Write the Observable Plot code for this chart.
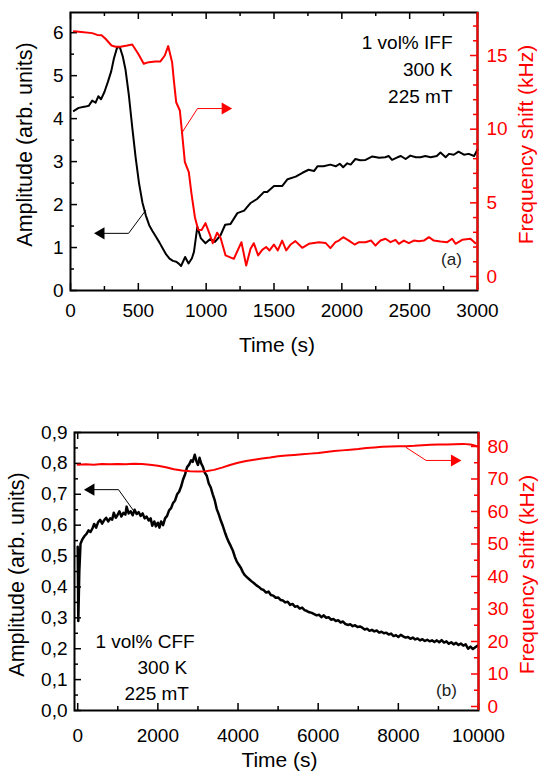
<!DOCTYPE html>
<html><head><meta charset="utf-8">
<script src="https://cdn.jsdelivr.net/npm/d3@7"></script>
<script src="https://cdn.jsdelivr.net/npm/@observablehq/plot@0.6"></script>
<style>
html,body{margin:0;padding:0;background:#fff;}
#wrap{position:relative;width:539px;height:772px;overflow:hidden;}
.layer{position:absolute;left:0;}
</style></head><body><div id="wrap"></div>
<script>
// ---------- Panel (a) data ----------
const ampA_t = [25,60,110,135,160,185,205,225,250,275,300,320,345,365,385,405,430,455,480,505,530,555,580,605,630,655,680,705,730,755,780,800,815,845,870,895,910,935,960,995,1030,1065,1105,1140,1180,1230,1280,1325,1375,1425,1450,1500,1560,1600,1660,1710,1755,1795,1820,1865,1915,1955,1985,2010,2040,2065,2100,2135,2175,2225,2275,2320,2345,2370,2410,2435,2470,2505,2545,2580,2615,2655,2700,2727,2765,2790,2825,2860,2900,2935,2975,3000];
const ampA_v = [4.18,4.25,4.28,4.30,4.42,4.37,4.52,4.45,4.62,4.85,5.10,5.40,5.67,5.65,5.45,5.15,4.55,3.80,3.10,2.50,2.05,1.75,1.52,1.38,1.25,1.12,0.98,0.84,0.74,0.69,0.67,0.62,0.57,0.78,0.63,0.75,0.90,1.48,1.22,1.10,1.20,1.13,1.28,1.53,1.55,1.80,1.86,2.03,2.13,2.29,2.29,2.43,2.43,2.59,2.65,2.74,2.81,2.78,2.89,2.89,2.93,2.89,2.95,2.87,2.96,2.93,3.06,3.03,3.04,3.12,3.09,3.10,3.13,3.04,3.10,3.13,3.06,3.14,3.10,3.10,3.13,3.10,3.13,3.21,3.10,3.18,3.16,3.23,3.16,3.18,3.13,3.28];
const frqA_t = [25,80,160,197,229,258,302,332,369,418,455,499,540,577,626,663,695,720,749,762,779,806,823,843,872,892,917,941,966,995,1025,1049,1081,1106,1143,1204,1260,1295,1327,1351,1383,1413,1442,1467,1499,1528,1560,1590,1622,1658,1708,1757,1831,1880,1916,1953,1978,2010,2052,2094,2126,2174,2216,2248,2285,2322,2359,2396,2420,2457,2494,2531,2568,2605,2642,2678,2727,2777,2813,2838,2887,2948,2985];
const frqA_v = [16.65,16.6,16.52,16.4,16.37,16.14,15.68,15.6,15.6,15.68,15.75,15.12,14.44,14.55,14.6,14.6,15.0,15.64,14.55,13.3,11.83,11.27,9.69,7.76,7.08,5.61,4.03,3.17,3.15,3.62,2.9,2.26,2.97,2.63,1.43,1.2,2.33,0.75,1.88,2.26,1.43,1.81,2.0,1.77,2.17,1.77,2.44,1.77,2.17,2.4,1.95,2.22,2.33,2.28,1.93,2.33,2.44,2.67,2.44,2.17,2.33,2.33,2.44,2.1,2.44,2.56,2.33,2.49,2.22,2.44,2.26,2.44,2.4,2.44,2.67,2.44,2.38,2.33,2.56,2.22,2.49,2.56,2.26];
const xTicksA = [0,500,1000,1500,2000,2500,3000];
const xMinorA = [250,750,1250,1750,2250,2750];
const yTicksA = [0,1,2,3,4,5,6];
const yMinorA = [0.5,1.5,2.5,3.5,4.5,5.5];
const rTicksA = [0,5,10,15];
const rMinorA = [1,2,3,4,6,7,8,9,11,12,13,14,16,17];
const notesA = ["1 vol% IFF","300 K","225 mT"];
const notesA_t = [2816,2816,2816];
const notesA_v = [5.755,5.136,4.515];
const tagA = "(a)";
const arrowBlackA_t = [553,428,225], arrowBlackA_v = [1.86,1.33,1.33];
const arrowRedA_t = [818,936,1140], arrowRedA_v = [9.71,11.4,11.4];

// ---------- Panel (b) data ----------
const ampB_t = [0,15,40,70,120,170,220,270,320,370,410,460,510,560,610,660,710,760,810,860,900,950,990,1040,1090,1140,1190,1220,1270,1320,1370,1420,1470,1520,1570,1620,1670,1720,1770,1820,1860,1910,1950,2000,2040,2080,2130,2180,2230,2280,2330,2380,2430,2480,2530,2580,2630,2680,2730,2780,2830,2870,2920,2960,3000,3040,3080,3120,3170,3220,3270,3320,3370,3420,3470,3520,3570,3620,3670,3720,3770,3820,3870,3920,3970,4020,4070,4120,4170,4220,4280,4340,4400,4460,4520,4580,4640,4700,4760,4820,4880,4940,5000,5060,5120,5180,5240,5300,5360,5420,5480,5540,5600,5660,5720,5780,5840,5900,5960,6020,6080,6140,6200,6260,6320,6380,6440,6500,6560,6620,6680,6740,6800,6860,6920,6980,7040,7100,7160,7220,7280,7340,7400,7460,7520,7580,7640,7700,7760,7820,7880,7940,8000,8060,8120,8180,8240,8300,8360,8420,8480,8540,8600,8660,8720,8780,8840,8900,8960,9020,9080,9140,9200,9260,9320,9380,9440,9500,9560,9620,9680,9740,9800,9860,9920,9980];
const ampB_v = [0.53,0.29,0.45,0.54,0.555,0.565,0.572,0.583,0.578,0.590,0.604,0.592,0.610,0.617,0.605,0.616,0.624,0.612,0.622,0.618,0.640,0.624,0.632,0.645,0.628,0.640,0.634,0.660,0.638,0.645,0.632,0.650,0.636,0.642,0.630,0.638,0.622,0.628,0.615,0.622,0.598,0.612,0.596,0.608,0.592,0.612,0.600,0.622,0.630,0.648,0.655,0.672,0.680,0.700,0.708,0.725,0.748,0.765,0.788,0.796,0.810,0.805,0.828,0.808,0.795,0.818,0.800,0.790,0.770,0.760,0.735,0.722,0.700,0.680,0.652,0.635,0.615,0.598,0.578,0.560,0.545,0.532,0.518,0.498,0.482,0.472,0.462,0.448,0.438,0.432,0.425,0.418,0.412,0.405,0.400,0.393,0.390,0.382,0.385,0.374,0.372,0.365,0.366,0.358,0.356,0.350,0.352,0.342,0.345,0.336,0.338,0.330,0.333,0.325,0.322,0.318,0.316,0.312,0.308,0.310,0.302,0.308,0.300,0.302,0.294,0.296,0.290,0.292,0.285,0.288,0.280,0.277,0.279,0.273,0.276,0.270,0.272,0.268,0.262,0.265,0.258,0.261,0.256,0.259,0.252,0.255,0.250,0.252,0.246,0.249,0.241,0.244,0.238,0.245,0.240,0.236,0.238,0.232,0.236,0.230,0.233,0.227,0.231,0.225,0.229,0.224,0.227,0.222,0.227,0.221,0.228,0.220,0.224,0.216,0.221,0.214,0.219,0.212,0.217,0.210,0.214,0.200,0.207,0.199,0.205,0.210];
const frqB_t = [0,200,400,600,800,1000,1200,1400,1600,1800,2000,2200,2400,2600,2800,3000,3200,3400,3600,3800,4000,4200,4400,4600,4800,5000,5200,5400,5600,5800,6000,6200,6400,6600,6800,7000,7200,7400,7600,7800,8000,8200,8400,8600,8800,9000,9200,9400,9600,9800,9900,10000];
const frqB_v = [74.4,74.5,74.4,74.6,74.5,74.6,74.5,74.7,74.6,74.4,74.1,73.6,73.0,72.6,72.4,72.3,72.4,72.8,73.5,74.3,75.0,75.5,75.9,76.3,76.6,77.0,77.2,77.4,77.6,77.8,78.0,78.3,78.6,78.8,79.0,79.2,79.5,79.7,79.9,80.0,80.1,80.1,80.2,80.4,80.5,80.6,80.6,80.7,80.8,80.6,80.3,79.9];
const xTicksB = [0,2000,4000,6000,8000,10000];
const xMinorB = [1000,3000,5000,7000,9000];
const yTicksB = [0,0.1,0.2,0.3,0.4,0.5,0.6,0.7,0.8,0.9];
const yMinorB = [0.05,0.15,0.25,0.35,0.45,0.55,0.65,0.75,0.85];
const rTicksB = [0,10,20,30,40,50,60,70,80];
const rMinorB = [5,15,25,35,45,55,65,75];
const notesB = ["1 vol% CFF","300 K","225 mT"];
const notesB_t = [443,1492,1168];
const notesB_v = [0.223,0.139,0.055];
const tagB = "(b)";
const arrowBlackB_t = [1393,1018,330], arrowBlackB_v = [0.647,0.715,0.715];
const arrowRedB_t = [8193,8693,9400], arrowRedB_v = [79.7,75.7,75.7];

const xTitle = "Time (s)", yTitle = "Amplitude (arb. units)", rTitle = "Frequency shift (kHz)";

// ---------- helpers ----------
const FONT = "'Liberation Sans', Arial, Helvetica, sans-serif";
const RED = "#ff0000";
const zip = (t, v) => t.map((d, i) => ({t: d, v: v[i]}));
const style = {fontFamily: FONT, background: "transparent", overflow: "visible"};

// inward ticks: full-span tick marks shortened with insets
function xTickMarks(vals, len, innerH, color) {
  return [
    Plot.tickX(vals, {x: d => d, insetTop: innerH - len, stroke: color, strokeWidth: 1.5}),
    Plot.tickX(vals, {x: d => d, insetBottom: innerH - len, stroke: color, strokeWidth: 1.5})
  ];
}
function yTickMarks(vals, len, innerW, side, color) {
  return side === "left"
    ? Plot.tickY(vals, {y: d => d, insetRight: innerW - len, stroke: color, strokeWidth: 1.5})
    : Plot.tickY(vals, {y: d => d, insetLeft: innerW - len, stroke: color, strokeWidth: 1.5});
}
function tickLabels(axis, anchor, major, color, pad, fmt) {
  return axis({anchor, ticks: major, tickSize: 0, tickPadding: pad, fill: color, fontSize: 19, label: null, tickFormat: fmt});
}
function arrowMarks(t, v, color, rot) {
  const pts = zip(t, v);
  return [
    Plot.line(pts, {x: "t", y: "v", stroke: color, strokeWidth: 1}),
    Plot.dot([pts[pts.length - 1]], {x: "t", y: "v", symbol: "triangle", r: 4.5, rotate: rot, fill: color, stroke: "none"})
  ];
}

function panel(cfg) {
  const innerW = 539 - cfg.ml - cfg.mr, innerH = cfg.height - cfg.mt - cfg.mb;
  const common = {width: 539, height: cfg.height, marginTop: cfg.mt, marginBottom: cfg.mb, marginLeft: cfg.ml, marginRight: cfg.mr, style};
  const left = Plot.plot({
    ...common,
    x: {domain: cfg.xDomain, axis: null},
    y: {domain: cfg.yDomain, axis: null},
    marks: [
      ...xTickMarks(cfg.xMinor, 4, innerH, "black"),
      ...xTickMarks(cfg.xTicks, 7, innerH, "black"),
      yTickMarks(cfg.yMinor, 4, innerW, "left", "black"),
      yTickMarks(cfg.yTicks, 7, innerW, "left", "black"),
      tickLabels(Plot.axisX, "bottom", cfg.xTicks, "black", cfg.xPad, d => String(d)),
      tickLabels(Plot.axisY, "left", cfg.yTicks, "black", 7, cfg.yFmt),
      Plot.line(zip(cfg.ampT, cfg.ampV), {x: "t", y: "v", stroke: "black", strokeWidth: cfg.lw}),
      ...arrowMarks(cfg.abT, cfg.abV, "black", -90),
      Plot.text(cfg.notes.map((s, i) => ({s, t: cfg.notesT[i], v: cfg.notesV[i]})), {x: "t", y: "v", text: "s", textAnchor: cfg.notesAnchor, lineAnchor: "middle", fontSize: 19, fill: "black"}),
      Plot.text([cfg.tag], {frameAnchor: "bottom-right", dx: -cfg.tagDx, dy: -cfg.tagDy, text: d => d, textAnchor: "middle", lineAnchor: "middle", fontSize: 17, fill: "#222"}),
      Plot.text([xTitle], {frameAnchor: "bottom", dx: 3, dy: cfg.xTitleDy, text: d => d, textAnchor: "middle", lineAnchor: "middle", fontSize: 21, fill: "black"}),
      Plot.text([yTitle], {frameAnchor: "left", dx: cfg.yTitleDx, dy: cfg.yTitleDy, rotate: -90, text: d => d, textAnchor: "middle", lineAnchor: "middle", fontSize: 21.5, fill: "black"}),
      Plot.frame({stroke: "black", strokeWidth: 2})
    ]
  });
  const right = Plot.plot({
    ...common,
    x: {domain: cfg.xDomain, axis: null},
    y: {domain: cfg.rDomain, axis: null},
    marks: [
      yTickMarks(cfg.rMinor, 4, innerW, "right", RED),
      yTickMarks(cfg.rTicks, 7, innerW, "right", RED),
      tickLabels(Plot.axisY, "right", cfg.rTicks, RED, 9, d => String(d)),
      Plot.line(zip(cfg.frqT, cfg.frqV), {x: "t", y: "v", stroke: RED, strokeWidth: 2}),
      ...arrowMarks(cfg.arT, cfg.arV, RED, 90),
      Plot.text([rTitle], {frameAnchor: "right", dx: cfg.rTitleDx, dy: cfg.yTitleDy, rotate: -90, text: d => d, textAnchor: "middle", lineAnchor: "middle", fontSize: 21, fill: RED}),
      Plot.ruleX([cfg.xTicks[cfg.xTicks.length - 1]], {stroke: RED, strokeWidth: 2})
    ]
  });
  for (const svg of [left, right]) {
    svg.classList.add("layer");
    svg.style.top = cfg.top + "px";
    document.getElementById("wrap").appendChild(svg);
  }
}

panel({
  top: 0, height: 360, mt: 12, mb: 70, ml: 70, mr: 62,
  xDomain: [0, 3000], yDomain: [0, 6.47], rDomain: [-0.95, 17.92],
  xTicks: xTicksA, xMinor: xMinorA, yTicks: yTicksA, yMinor: yMinorA, rTicks: rTicksA, rMinor: rMinorA,
  xPad: 13, yFmt: d => String(d), lw: 2,
  ampT: ampA_t, ampV: ampA_v, frqT: frqA_t, frqV: frqA_v,
  abT: arrowBlackA_t, abV: arrowBlackA_v, arT: arrowRedA_t, arV: arrowRedA_v,
  notes: notesA, notesT: notesA_t, notesV: notesA_v, notesAnchor: "end",
  tag: tagA, tagDx: 26, tagDy: 31,
  xTitleDy: 55, yTitleDx: -45, yTitleDy: -7, rTitleDx: 49
});
panel({
  top: 400, height: 372, mt: 32, mb: 62, ml: 74, mr: 61,
  xDomain: [-80, 10000], yDomain: [0, 0.9], rDomain: [-1.23, 84.3],
  xTicks: xTicksB, xMinor: xMinorB, yTicks: yTicksB, yMinor: yMinorB, rTicks: rTicksB, rMinor: rMinorB,
  xPad: 18, yFmt: d => d.toFixed(1).replace(".", ","), lw: 2.5,
  ampT: ampB_t, ampV: ampB_v, frqT: frqB_t, frqV: frqB_v,
  abT: arrowBlackB_t, abV: arrowBlackB_v, arT: arrowRedB_t, arV: arrowRedB_v,
  notes: notesB, notesT: notesB_t, notesV: notesB_v, notesAnchor: "start",
  tag: tagB, tagDx: 32, tagDy: 20,
  xTitleDy: 50, yTitleDx: -57, yTitleDy: 3, rTitleDx: 49
});
</script></body></html>
